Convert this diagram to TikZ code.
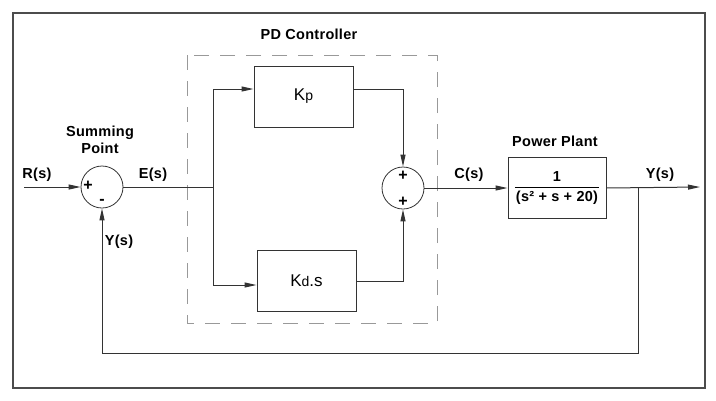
\documentclass[tikz,border=0pt]{standalone}
\usepackage{fontspec}
\setmainfont{Liberation Sans}
\newfontfamily\lblfont[LetterSpace=2]{Liberation Sans}
\usetikzlibrary{arrows.meta}
\begin{document}
\begin{tikzpicture}[x=1pt,y=-1pt,
  ln/.style={draw=black!80, line width=1pt},
  arr/.style={ln, -{Triangle[length=12pt,width=5pt]}},
  blk/.style={draw=black!80, line width=1pt, minimum width=99pt, minimum height=61pt, inner sep=0pt},
  sumj/.style={circle, draw=black!80, line width=0.8pt, minimum size=42pt, inner sep=0pt},
  lbl/.style={font=\lblfont\bfseries\fontsize{14.5}{17}\selectfont, inner sep=0pt, align=center},
  sgn/.style={font=\bfseries\fontsize{16}{16}\selectfont, inner sep=0pt},
  gain/.style={font=\fontsize{17}{18}\selectfont}]
\useasboundingbox (0,0) rectangle (716,400);
\draw[black!70, line width=1.5pt] (13,13) rectangle (705,388);
\draw[black!40, line width=1pt, dash pattern=on 15pt off 11pt] (187,55) rectangle (437,323);
% blocks
\node[sumj] (s1) at (102,187) {};
\node[sumj] (s2) at (403,188) {};
\node[blk, gain] (kp) at (303.5,96.5) {K{\fontsize{14}{14}\selectfont p}};
\node[blk, gain] (kd) at (306.5,280.5) {K{\fontsize{14}{14}\selectfont d}.s};
\node[blk, minimum width=98pt, font=\lblfont\bfseries\fontsize{14.5}{16}\selectfont] (pl) at (557,187.5)
  {\setlength{\tabcolsep}{1pt}\renewcommand{\arraystretch}{1.2}\begin{tabular}{c}1\\\hline(s² + s + 20)\end{tabular}};
% coordinates
\coordinate (in) at (24,187);
\coordinate (br) at (213,187);
\coordinate (b1) at (213,89);
\coordinate (b2) at (213,285);
\coordinate (k1) at (403,89);
\coordinate (k2) at (403,281);
\coordinate (out) at (700,187);
\coordinate (fb) at (638,187);
\coordinate (fb1) at (638,353);
% connectors
\draw[arr] (in) -- (s1.west);
\draw[ln] (s1.east) -- (br);
\draw[ln] (b1) -- (b2);
\draw[arr] (b1) -- (kp.west |- b1);
\draw[arr] (b2) -- (kd.west |- b2);
\draw[arr] (kp.east |- b1) -- (k1) -- (s2.north);
\draw[arr] (kd.east |- k2) -- (k2) -- (s2.south);
\draw[arr] (s2.east) -- (pl.west |- s2.east);
\draw[arr] (pl.east |- s2.east) -- (out);
\draw[arr] (fb) -- (fb1) -- (s1.south |- fb1) -- (s1.south);
% signs
\node[sgn] (p1) at (88,186) {+};
\node[sgn] (m1) at (102,202) {-};
\node[sgn] (p2) at (403,176) {+};
\node[sgn] (p3) at (403,202) {+};
% labels
\node[lbl] (lpd) at (309,34) {PD Controller};
\node[lbl] (lsum) at (100,140) {Summing\\Point};
\node[lbl] (lr) at (37,175) {R(s)};
\node[lbl] (le) at (153,175) {E(s)};
\node[lbl] (ly1) at (119,242) {Y(s)};
\node[lbl] (lc) at (469,175) {C(s)};
\node[lbl] (lpp) at (555,141) {Power Plant};
\node[lbl] (ly2) at (660,175) {Y(s)};
\end{tikzpicture}
\end{document}
